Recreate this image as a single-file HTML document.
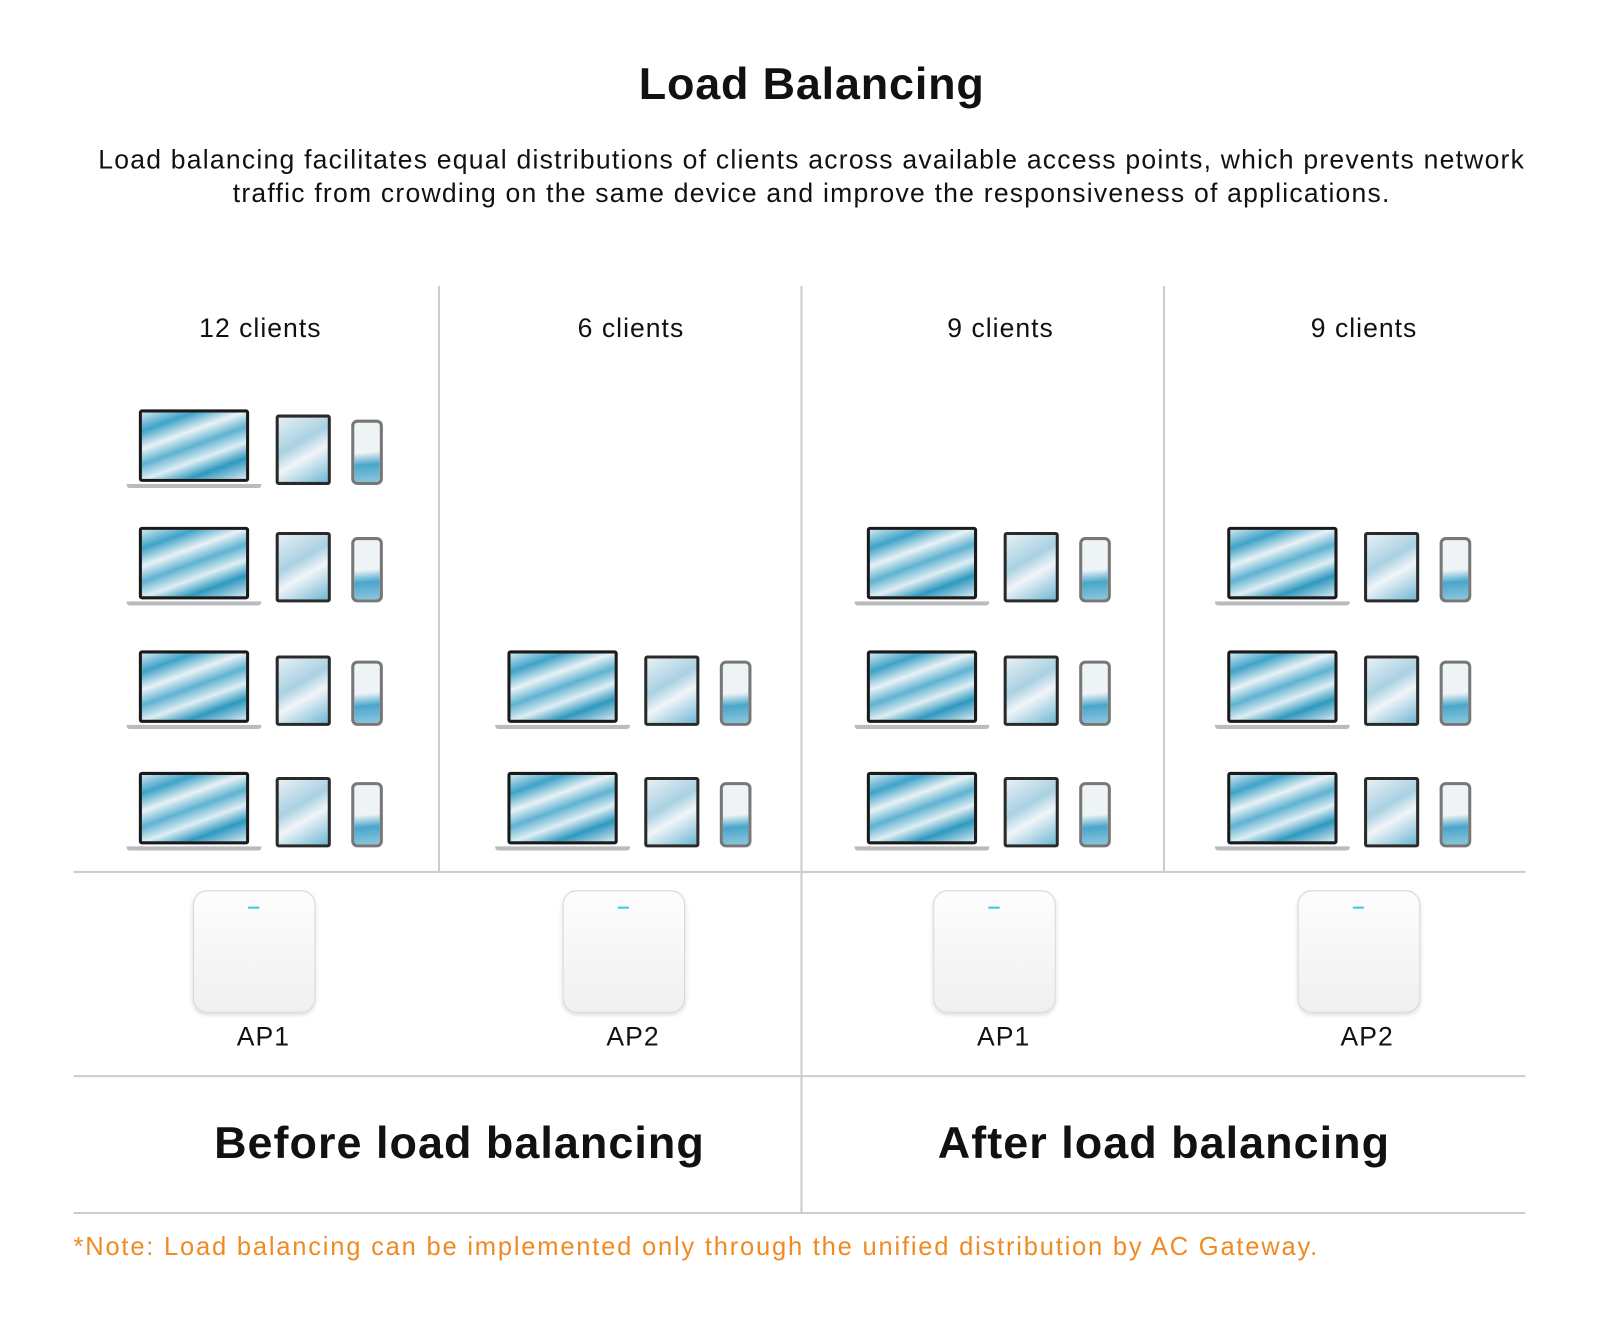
<!DOCTYPE html><html><head><style>
body{margin:0;background:#fff;width:1600px;height:1330px;overflow:hidden;font-family:"Liberation Sans",sans-serif}
#w{position:absolute;left:0;top:0;width:1560px;height:1297px;transform:scale(1.021);transform-origin:0 0}
.a{position:absolute}
.t{position:absolute;text-align:center;color:#111}
.scr{background:linear-gradient(160deg,#cfe6ee 0%,#3fa3c8 18%,#e9f2f5 35%,#5fb2d2 50%,#dfeef3 65%,#2e98c0 80%,#d5e8ef 100%)}
.lap{position:absolute;width:108px;height:71px;border:3px solid #1a1a1a;border-radius:3px;box-sizing:border-box}
.base{position:absolute;width:132px;height:4px;background:#b9bcbf;border-radius:0 0 3px 3px}
.tab{position:absolute;width:54px;height:69px;border:3px solid #2a2a2a;border-radius:3px;box-sizing:border-box;background:linear-gradient(150deg,#e6f0f4,#a9d1e2 40%,#f1f5f8 60%,#6fb8d4)}
.ph{position:absolute;width:31px;height:64px;border:3px solid #777;border-radius:6px;box-sizing:border-box;background:linear-gradient(175deg,#eef3f6 50%,#4aa6cb 70%,#8cc6dd)}
.ap{position:absolute;width:118px;height:118px;border:1px solid #d8d8d8;border-radius:14px;background:linear-gradient(#fdfdfd,#f0f0f0);box-shadow:0 2px 4px #ddd}
.ap:after{content:"";position:absolute;left:53px;top:15px;width:11px;height:2px;background:#3ccbe0}
.h{position:absolute;height:2px;background:#ccc}.v{position:absolute;width:2px;background:#ccc}
.l{font-size:26px;letter-spacing:1px}
</style></head><body><div id="w">
<div class="t" style="left:0;width:1590px;top:58px;font-size:44px;font-weight:bold;letter-spacing:0.8px">Load Balancing</div>
<div class="t" style="left:0;width:1590px;top:140px;font-size:26px;line-height:33px;letter-spacing:1.2px;white-space:nowrap">Load balancing facilitates equal distributions of clients across available access points, which prevents network<br>traffic from crowding on the same device and improve the responsiveness of applications.</div>
<div class="t l" style="left:155px;width:200px;top:306px">12 clients</div>
<div class="t l" style="left:518px;width:200px;top:306px">6 clients</div>
<div class="t l" style="left:880px;width:200px;top:306px">9 clients</div>
<div class="t l" style="left:1236px;width:200px;top:306px">9 clients</div>
<div class="v" style="left:429px;top:280px;height:574px"></div>
<div class="v" style="left:784px;top:280px;height:908px"></div>
<div class="v" style="left:1139px;top:280px;height:574px"></div>
<div class="h" style="left:72px;width:1422px;top:853px"></div>
<div class="h" style="left:72px;width:1422px;top:1053px"></div>
<div class="h" style="left:72px;width:1422px;top:1187px"></div>
<div id="dev"></div>
<div class="ap" style="left:189px;top:872px"></div>
<div class="ap" style="left:551px;top:872px"></div>
<div class="ap" style="left:914px;top:872px"></div>
<div class="ap" style="left:1271px;top:872px"></div>
<div class="t l" style="left:198px;width:120px;top:1000px">AP1</div>
<div class="t l" style="left:560px;width:120px;top:1000px">AP2</div>
<div class="t l" style="left:923px;width:120px;top:1000px">AP1</div>
<div class="t l" style="left:1279px;width:120px;top:1000px">AP2</div>
<div class="t" style="left:150px;width:600px;top:1095px;font-size:44px;font-weight:bold;letter-spacing:1px">Before load balancing</div>
<div class="t" style="left:840px;width:600px;top:1095px;font-size:44px;font-weight:bold;letter-spacing:1px">After load balancing</div>
<div class="a" style="left:72px;top:1207px;font-size:25px;color:#f08a24;letter-spacing:1.75px;white-space:nowrap">*Note: Load balancing can be implemented only through the unified distribution by AC Gateway.</div>
<script>
var cols=[[136,[401,516,637,756]],[497,[637,756]],[849,[516,637,756]],[1202,[516,637,756]]],h="";
cols.forEach(function(c){c[1].forEach(function(y){var x=c[0];
h+='<div class="lap scr" style="left:'+x+'px;top:'+y+'px"></div><div class="base" style="left:'+(x-12)+'px;top:'+(y+73)+'px"></div>';
h+='<div class="tab" style="left:'+(x+134)+'px;top:'+(y+5)+'px"></div><div class="ph" style="left:'+(x+208)+'px;top:'+(y+10)+'px"></div>';});});
document.getElementById("dev").innerHTML=h;
</script>
</div></body></html>
